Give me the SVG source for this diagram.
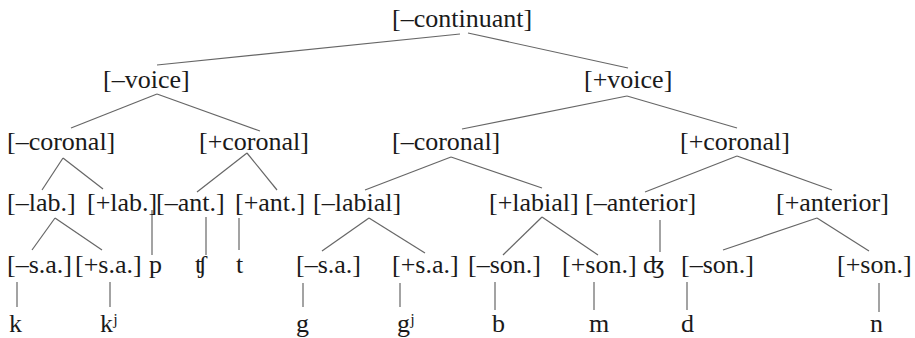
<svg xmlns="http://www.w3.org/2000/svg" width="915" height="338" viewBox="0 0 915 338">
<style>
text{font-family:"Liberation Serif","Times New Roman","DejaVu Serif",serif;font-size:26px;fill:#1a1a1a}
.c line{stroke:#666;stroke-width:1.2;fill:none}
</style>
<rect width="915" height="338" fill="#fff"/>
<g class="c" id="connectors">
<line x1="460" y1="34" x2="157" y2="65"/>
<line x1="468" y1="33" x2="628" y2="68"/>
<line x1="157" y1="94" x2="71" y2="128"/>
<line x1="157" y1="94" x2="260" y2="131"/>
<line x1="627" y1="96" x2="462" y2="129"/>
<line x1="627" y1="96" x2="737" y2="128"/>
<line x1="63" y1="158" x2="42" y2="190"/>
<line x1="63" y1="158" x2="103" y2="189"/>
<line x1="247" y1="153" x2="197" y2="192"/>
<line x1="247" y1="153" x2="277" y2="190"/>
<line x1="451" y1="157" x2="365" y2="190"/>
<line x1="451" y1="157" x2="542" y2="188"/>
<line x1="737" y1="156" x2="645" y2="192"/>
<line x1="737" y1="156" x2="832" y2="190"/>
<line x1="55" y1="218" x2="32" y2="250"/>
<line x1="55" y1="218" x2="102" y2="250"/>
<line x1="152" y1="210" x2="152" y2="255"/>
<line x1="206" y1="217" x2="206" y2="255"/>
<line x1="239" y1="218" x2="239" y2="250"/>
<line x1="369" y1="218" x2="322" y2="251"/>
<line x1="369" y1="218" x2="425" y2="253"/>
<line x1="542" y1="217" x2="503" y2="255"/>
<line x1="542" y1="217" x2="598" y2="255"/>
<line x1="660" y1="220" x2="660" y2="252"/>
<line x1="817" y1="218" x2="723" y2="250"/>
<line x1="817" y1="218" x2="869" y2="251"/>
<line x1="17" y1="282" x2="17" y2="307"/>
<line x1="110" y1="282" x2="110" y2="307"/>
<line x1="303" y1="283" x2="303" y2="307"/>
<line x1="400" y1="283" x2="400" y2="307"/>
<line x1="495" y1="282" x2="495" y2="310"/>
<line x1="594" y1="282" x2="594" y2="310"/>
<line x1="687" y1="282" x2="687" y2="310"/>
<line x1="879" y1="283" x2="879" y2="312"/>
</g>
<g id="n-root"><text x="392" y="27">[–continuant]</text></g>
<g id="n-vm"><text x="103" y="88">[–voice]</text></g>
<g id="n-vp"><text x="584" y="88">[+voice]</text></g>
<g id="n-cm1"><text x="7" y="150">[–coronal]</text></g>
<g id="n-cp1"><text x="199" y="150">[+coronal]</text></g>
<g id="n-cm2"><text x="392" y="150">[–coronal]</text></g>
<g id="n-cp2"><text x="680" y="150">[+coronal]</text></g>
<g id="n-labm"><text x="7" y="211">[–lab.]</text></g>
<g id="n-labp"><text x="87" y="211">[+lab.]</text></g>
<g id="n-antm"><text x="156" y="211">[–ant.]</text></g>
<g id="n-antp"><text x="235" y="211">[+ant.]</text></g>
<g id="n-labialm"><text x="313" y="211">[–labial]</text></g>
<g id="n-labialp"><text x="489" y="211">[+labial]</text></g>
<g id="n-anteriorm"><text x="585" y="211">[–anterior]</text></g>
<g id="n-anteriorp"><text x="776" y="211">[+anterior]</text></g>
<g id="n-sam1"><text x="7" y="273">[–s.a.]</text></g>
<g id="n-sap1"><text x="75" y="273">[+s.a.]</text></g>
<g id="n-p"><text x="149" y="273">p</text></g>
<g id="n-tsh"><text x="195" y="273">ʧ</text></g>
<g id="n-t"><text x="236" y="273">t</text></g>
<g id="n-sam2"><text x="296" y="273">[–s.a.]</text></g>
<g id="n-sap2"><text x="392" y="273">[+s.a.]</text></g>
<g id="n-sonm1"><text x="468" y="273">[–son.]</text></g>
<g id="n-sonp1"><text x="562" y="273">[+son.]</text></g>
<g id="n-dzh"><text x="643" y="273">ʤ</text></g>
<g id="n-sonm2"><text x="681" y="273">[–son.]</text></g>
<g id="n-sonp2"><text x="837" y="273">[+son.]</text></g>
<g id="n-k"><text x="9" y="332">k</text></g>
<g id="n-kj"><text x="100" y="332">kʲ</text></g>
<g id="n-g"><text x="296" y="332">g</text></g>
<g id="n-gj"><text x="397" y="332">gʲ</text></g>
<g id="n-b"><text x="492" y="332">b</text></g>
<g id="n-m"><text x="589" y="332">m</text></g>
<g id="n-d"><text x="681" y="332">d</text></g>
<g id="n-n"><text x="870" y="332">n</text></g>
</svg>
